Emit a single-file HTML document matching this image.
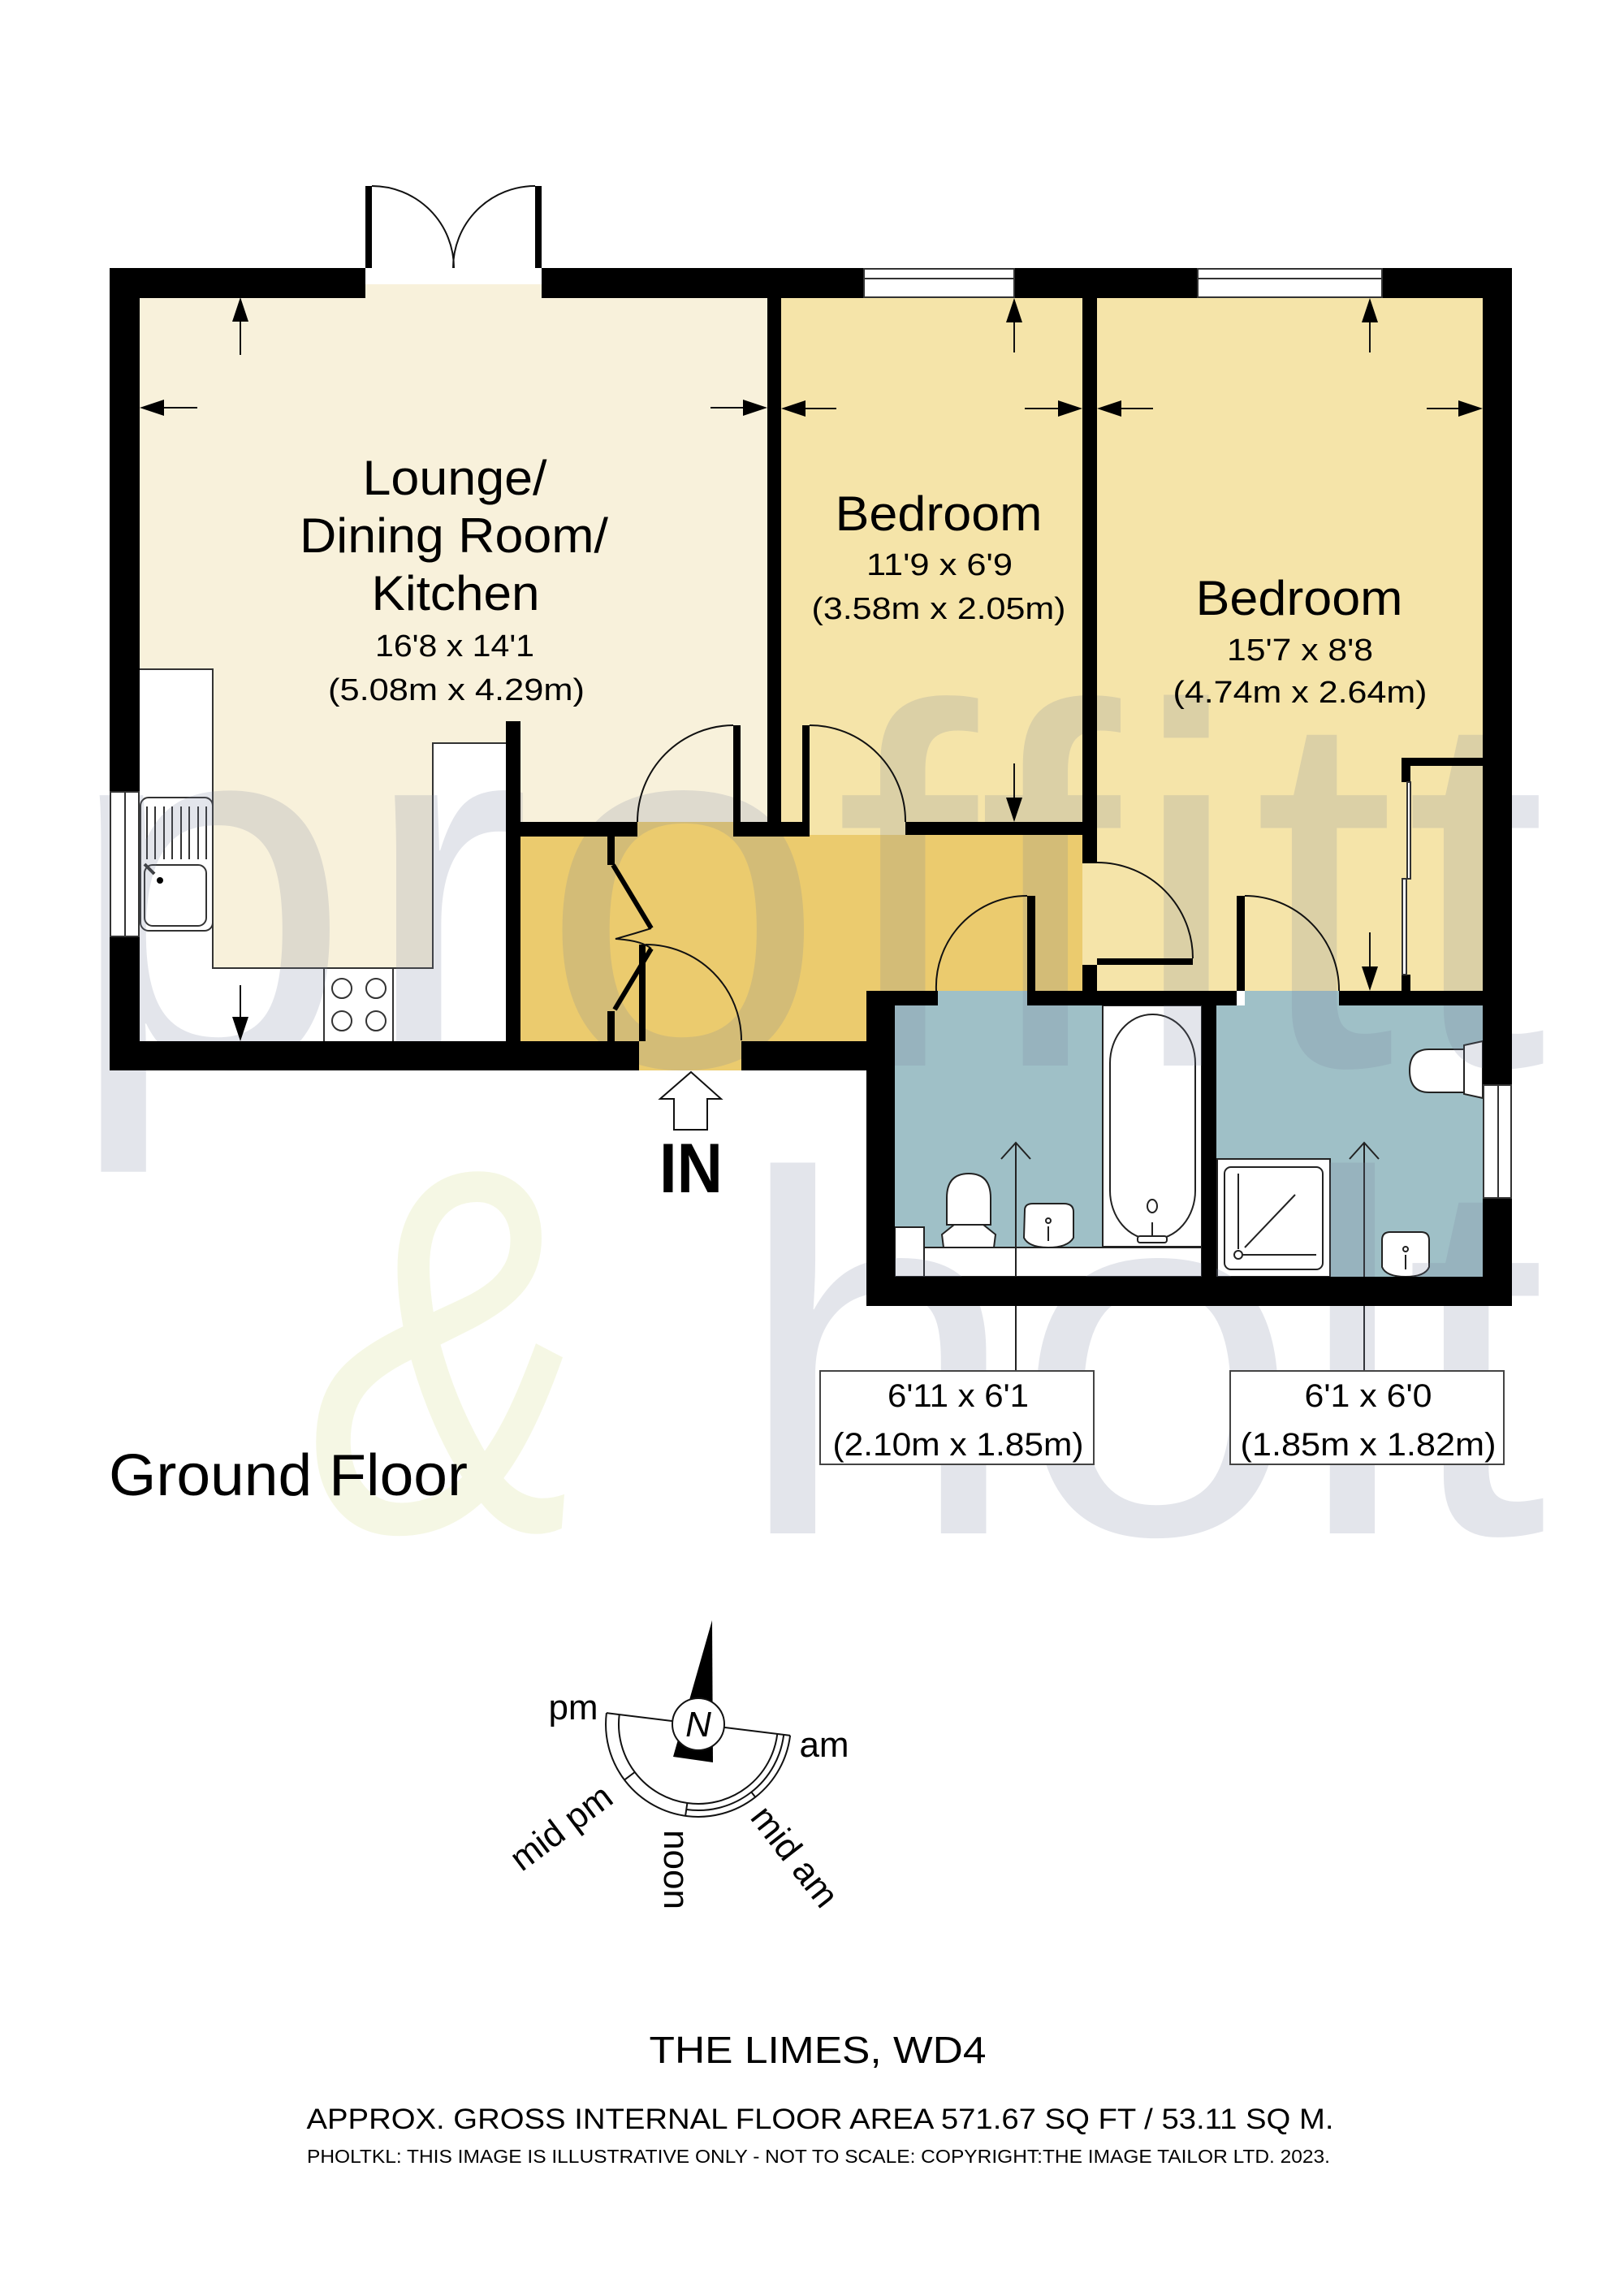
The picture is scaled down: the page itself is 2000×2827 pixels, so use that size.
<!DOCTYPE html>
<html><head><meta charset="utf-8"><style>
html,body{margin:0;padding:0;background:#fff;}
svg{display:block;}
text{font-family:"Liberation Sans",sans-serif;}
</style></head><body>
<svg width="2000" height="2827" viewBox="0 0 2000 2827" xmlns="http://www.w3.org/2000/svg">
<rect width="2000" height="2827" fill="#fff"/>
<rect x="171" y="350" width="774" height="662" fill="#f8f1db"/>
<rect x="171" y="1012" width="452" height="270" fill="#f8f1db"/>
<rect x="962" y="366" width="371" height="646" fill="#f5e4a9"/>
<rect x="1351" y="366" width="475" height="854" fill="#f5e4a9"/>
<rect x="962" y="1012" width="153" height="16" fill="#f5e4a9"/>
<rect x="1333" y="1063" width="18" height="125" fill="#f5e4a9"/>
<rect x="641" y="1028" width="692" height="192" fill="#ebcb6e"/>
<rect x="641" y="1220" width="427" height="62" fill="#ebcb6e"/>
<rect x="787" y="1281" width="126" height="37" fill="#ebcb6e"/>
<rect x="785" y="1012" width="118" height="16" fill="#ebcb6e"/>
<rect x="1102" y="1238" width="724" height="334" fill="#9fc0c7"/>
<rect x="1155" y="1220" width="110" height="18" fill="#9fc0c7"/>
<rect x="1533" y="1220" width="116" height="18" fill="#9fc0c7"/>

<g fill="#fff" stroke="#333" stroke-width="2">
<rect x="171" y="824" width="91" height="458" stroke="none"/>
<rect x="171" y="1192" width="452" height="90" stroke="none"/>
<rect x="533" y="915" width="90" height="367" stroke="none"/>
<polyline points="172,824 262,824 262,1192 533,1192 533,915 623,915" fill="none"/>
<line x1="399" y1="1192" x2="399" y2="1282"/><line x1="484" y1="1192" x2="484" y2="1282"/>
<circle cx="421" cy="1217" r="12"/><circle cx="463" cy="1217" r="12"/>
<circle cx="421" cy="1257" r="12"/><circle cx="463" cy="1257" r="12"/>
<rect x="173" y="982" width="89" height="164" rx="10"/>
<rect x="178" y="1065" width="76" height="75" rx="10"/>
</g>
<g stroke="#333" stroke-width="2">
<line x1="181" y1="993" x2="181" y2="1058"/><line x1="191" y1="993" x2="191" y2="1058"/><line x1="202" y1="993" x2="202" y2="1058"/><line x1="212" y1="993" x2="212" y2="1058"/><line x1="223" y1="993" x2="223" y2="1058"/><line x1="233" y1="993" x2="233" y2="1058"/><line x1="244" y1="993" x2="244" y2="1058"/><line x1="254" y1="993" x2="254" y2="1058"/>
<line x1="178" y1="1064" x2="190" y2="1076" stroke-width="4"/>
</g>
<circle cx="197" cy="1084" r="4" fill="#000"/>

<g fill="#fff" stroke="#222" stroke-width="2">
<rect x="1358" y="1238" width="122" height="297"/>
<rect x="1138" y="1536" width="342" height="36"/>
<rect x="1102" y="1511" width="36" height="61"/>
<rect x="1367" y="1249" width="105" height="277" rx="52" ry="60"/>
<ellipse cx="1419" cy="1485" rx="6" ry="8"/>
<line x1="1419" y1="1505" x2="1419" y2="1524"/>
<rect x="1401" y="1522" width="36" height="8" rx="3"/>
<path d="M1166,1508 L1166,1475 Q1166,1445 1193,1445 Q1220,1445 1220,1475 L1220,1508 Z"/>
<path d="M1162,1536 L1160,1520 L1175,1508 L1211,1508 L1226,1520 L1224,1536 Z"/>
<path d="M1262,1490 Q1262,1482 1272,1482 L1310,1482 Q1322,1482 1322,1492 L1322,1524 Q1315,1536 1291,1536 Q1267,1536 1261,1524 Z"/>
<rect x="1499" y="1427" width="139" height="145"/>
<rect x="1508" y="1437" width="121" height="126" rx="8"/>
<path d="M1702,1527 Q1702,1517 1712,1517 L1750,1517 Q1760,1517 1760,1527 L1760,1560 Q1755,1572 1731,1572 Q1707,1572 1702,1560 Z"/>
<path d="M1803,1292 L1760,1292 Q1736,1292 1736,1318 Q1736,1345 1760,1345 L1803,1345 Z"/>
<path d="M1803,1287 L1826,1282 L1826,1352 L1803,1347 Z"/>
</g>
<g stroke="#222" stroke-width="2" fill="none">
<line x1="1525" y1="1445" x2="1525" y2="1538"/><line x1="1531" y1="1545" x2="1621" y2="1545"/>
<circle cx="1525" cy="1545" r="5"/><line x1="1533" y1="1536" x2="1595" y2="1471"/>
<circle cx="1291" cy="1503" r="3"/><line x1="1291" y1="1510" x2="1291" y2="1528"/>
<circle cx="1731" cy="1538" r="3"/><line x1="1731" y1="1545" x2="1731" y2="1563"/>
</g>
<g stroke="#222" stroke-width="2" fill="none">
<line x1="1251" y1="1407" x2="1251" y2="1688"/><polyline points="1233,1427 1251,1407 1269,1427"/>
<line x1="1680" y1="1407" x2="1680" y2="1688"/><polyline points="1662,1427 1680,1407 1698,1427"/>
</g>

<g opacity="0.2" fill="#78829f" font-family="DejaVu Sans ExtraLight, Liberation Sans, sans-serif" font-weight="200">
<text x="82" y="1312" font-size="630" textLength="1823" lengthAdjust="spacing">proffitt</text>
<text x="905" y="1888" font-size="630" textLength="1000" lengthAdjust="spacing">holt</text>
</g>
<text x="0" y="0" font-family="Liberation Serif, serif" font-style="italic" font-size="640" fill="#dfe8a8" opacity="0.3" transform="translate(381,1885) scale(0.8,1)">&amp;</text>

<g fill="#000">
<rect x="135" y="330" width="315" height="37"/>
<rect x="667" y="330" width="397" height="37"/>
<rect x="1249" y="330" width="226" height="37"/>
<rect x="1702" y="330" width="160" height="37"/>
<rect x="450" y="229" width="8" height="101"/>
<rect x="659" y="229" width="8" height="101"/>
<rect x="135" y="330" width="37" height="645"/>
<rect x="135" y="1153" width="37" height="165"/>
<rect x="1826" y="330" width="36" height="1006"/>
<rect x="1826" y="1475" width="36" height="133"/>
<rect x="135" y="1282" width="652" height="36"/>
<rect x="913" y="1282" width="189" height="36"/>
<rect x="1067" y="1220" width="35" height="388"/>
<rect x="1067" y="1572" width="795" height="36"/>
<rect x="945" y="350" width="17" height="678"/>
<rect x="1333" y="350" width="18" height="713"/>
<rect x="623" y="888" width="18" height="394"/>
<rect x="623" y="1012" width="162" height="18"/>
<rect x="903" y="1012" width="94" height="18"/>
<rect x="903" y="893" width="9" height="119"/>
<rect x="988" y="893" width="9" height="119"/>
<rect x="1115" y="1012" width="236" height="16"/>
<rect x="1333" y="1188" width="18" height="50"/>
<rect x="1351" y="1180" width="118" height="8"/>
<rect x="1067" y="1220" width="88" height="18"/>
<rect x="1265" y="1220" width="258" height="18"/>
<rect x="1649" y="1220" width="213" height="18"/>
<rect x="1265" y="1103" width="10" height="117"/>
<rect x="1523" y="1103" width="10" height="117"/>
<rect x="1480" y="1238" width="18" height="334"/>
<rect x="748" y="1030" width="9" height="35"/>
<rect x="748" y="1245" width="9" height="37"/>
<rect x="787" y="1163" width="8" height="119"/>
<rect x="1726" y="933" width="100" height="10"/>
<rect x="1726" y="933" width="11" height="30"/>
<rect x="1726" y="1200" width="11" height="20"/>
</g>
<g fill="#fff" stroke="#333" stroke-width="2">
<rect x="1064" y="331" width="185" height="35"/><line x1="1064" y1="343" x2="1249" y2="343"/>
<rect x="1475" y="331" width="227" height="35"/><line x1="1475" y1="343" x2="1702" y2="343"/>
<rect x="136" y="975" width="35" height="178"/><line x1="154" y1="975" x2="154" y2="1153"/>
<rect x="1827" y="1336" width="34" height="139"/><line x1="1845" y1="1336" x2="1845" y2="1475"/>
<rect x="1733" y="963" width="4" height="119"/>
<rect x="1727" y="1082" width="5" height="118"/>
</g>
<g fill="none" stroke="#111" stroke-width="2">
<path d="M458,229 A101,101 0 0 1 559,330"/>
<path d="M659,229 A101,101 0 0 0 558,330"/>
<path d="M903,893 A119,119 0 0 0 785,1012"/>
<path d="M997,893 A118,118 0 0 1 1115,1012"/>
<path d="M1351,1062 A118,118 0 0 1 1469,1180"/>
<path d="M795,1163 A118,118 0 0 1 913,1281"/>
<path d="M1265,1103 A112,112 0 0 0 1153,1220"/>
<path d="M1533,1103 A116,116 0 0 1 1649,1220"/>
<path d="M758,1156 Q780,1150 802,1143 Q780,1150 758,1156 Q790,1158 802,1168"/>
</g>
<g stroke="#000" stroke-width="6" fill="none">
<polyline points="755,1065 802,1143"/>
<polyline points="757,1243 802,1168"/>
</g>

<g stroke="#111" stroke-width="2">
<line x1="296" y1="380" x2="296" y2="437"/><line x1="185" y1="502" x2="243" y2="502"/>
<line x1="875" y1="502" x2="930" y2="502"/><line x1="296" y1="1213" x2="296" y2="1268"/>
<line x1="1249" y1="380" x2="1249" y2="434"/><line x1="976" y1="503" x2="1030" y2="503"/>
<line x1="1262" y1="503" x2="1320" y2="503"/><line x1="1249" y1="940" x2="1249" y2="1000"/>
<line x1="1687" y1="380" x2="1687" y2="434"/><line x1="1365" y1="503" x2="1420" y2="503"/>
<line x1="1757" y1="503" x2="1812" y2="503"/><line x1="1687" y1="1148" x2="1687" y2="1208"/>
</g>
<g fill="#000">
<polygon points="296,366 286,396 306,396"/>
<polygon points="172,502 202,492 202,512"/>
<polygon points="945,502 915,492 915,512"/>
<polygon points="296,1282 286,1252 306,1252"/>
<polygon points="1249,367 1239,397 1259,397"/>
<polygon points="962,503 992,493 992,513"/>
<polygon points="1333,503 1303,493 1303,513"/>
<polygon points="1249,1012 1239,982 1259,982"/>
<polygon points="1687,367 1677,397 1697,397"/>
<polygon points="1351,503 1381,493 1381,513"/>
<polygon points="1826,503 1796,493 1796,513"/>
<polygon points="1687,1220 1677,1190 1697,1190"/>
</g>

<polygon points="851,1320 888,1353 871,1353 871,1391 830,1391 830,1353 813,1353" fill="#fff" stroke="#111" stroke-width="2"/>

<rect x="1010" y="1688" width="337" height="115" fill="#fff" stroke="#444" stroke-width="2"/>
<rect x="1515" y="1688" width="337" height="115" fill="#fff" stroke="#444" stroke-width="2"/>

<g fill="#000" text-anchor="middle">
<text x="560" y="609" font-size="60" textLength="227" lengthAdjust="spacingAndGlyphs">Lounge/</text>
<text x="559" y="680" font-size="60" textLength="380" lengthAdjust="spacingAndGlyphs">Dining Room/</text>
<text x="561" y="751" font-size="60" textLength="207" lengthAdjust="spacingAndGlyphs">Kitchen</text>
<text x="560" y="808" font-size="38" textLength="196" lengthAdjust="spacingAndGlyphs">16'8 x 14'1</text>
<text x="562" y="862" font-size="38" textLength="316" lengthAdjust="spacingAndGlyphs">(5.08m x 4.29m)</text>
<text x="1156" y="653" font-size="60" textLength="255" lengthAdjust="spacingAndGlyphs">Bedroom</text>
<text x="1157" y="708" font-size="38" textLength="180" lengthAdjust="spacingAndGlyphs">11'9 x 6'9</text>
<text x="1156" y="762" font-size="38" textLength="313" lengthAdjust="spacingAndGlyphs">(3.58m x 2.05m)</text>
<text x="1600" y="757" font-size="60" textLength="255" lengthAdjust="spacingAndGlyphs">Bedroom</text>
<text x="1601" y="813" font-size="38" textLength="180" lengthAdjust="spacingAndGlyphs">15'7 x 8'8</text>
<text x="1601" y="865" font-size="38" textLength="313" lengthAdjust="spacingAndGlyphs">(4.74m x 2.64m)</text>
<text x="1180" y="1732" font-size="40" textLength="174" lengthAdjust="spacingAndGlyphs">6'11 x 6'1</text>
<text x="1180" y="1792" font-size="40" textLength="309" lengthAdjust="spacingAndGlyphs">(2.10m x 1.85m)</text>
<text x="1685" y="1732" font-size="40" textLength="157" lengthAdjust="spacingAndGlyphs">6'1 x 6'0</text>
<text x="1685" y="1792" font-size="40" textLength="315" lengthAdjust="spacingAndGlyphs">(1.85m x 1.82m)</text>
<text x="851" y="1468" font-size="86" font-weight="bold" textLength="78" lengthAdjust="spacingAndGlyphs">IN</text>
<text x="1007" y="2540" font-size="46" textLength="415" lengthAdjust="spacingAndGlyphs">THE LIMES, WD4</text>
<text x="1010" y="2621" font-size="35" textLength="1265" lengthAdjust="spacingAndGlyphs">APPROX. GROSS INTERNAL FLOOR AREA 571.67 SQ FT / 53.11 SQ M.</text>
<text x="1008" y="2663" font-size="23" textLength="1260" lengthAdjust="spacingAndGlyphs">PHOLTKL: THIS IMAGE IS ILLUSTRATIVE ONLY - NOT TO SCALE: COPYRIGHT:THE IMAGE TAILOR LTD. 2023.</text>
</g>
<text x="134" y="1841" font-size="72" textLength="442" lengthAdjust="spacingAndGlyphs">Ground Floor</text>

<polygon points="877,1995 878,2170 829,2163" fill="#000"/>
<g fill="none" stroke="#111" stroke-width="2">
<path d="M746.9,2109.1 A114,114 0 0 0 846.1,2236.1 A114,114 0 0 0 973.1,2136.9"/>
<path d="M762.7,2111.1 A98,98 0 0 0 846.4,2220 A98,98 0 0 0 957.3,2134.9"/>
<path d="M845.2,2228 A106,106 0 0 0 965.2,2135.9"/>
<line x1="746.9" y1="2109.1" x2="828.3" y2="2119.1"/>
<line x1="891.8" y1="2126.9" x2="973.1" y2="2136.9"/>
<line x1="769" y1="2191.6" x2="781.7" y2="2182"/>
<line x1="844.1" y1="2235.9" x2="846.4" y2="2220"/>
<line x1="930.2" y1="2212.8" x2="925.3" y2="2206.5"/>
</g>
<circle cx="860" cy="2123" r="32" fill="#fff" stroke="#111" stroke-width="2"/>
<text x="860" y="2138" font-size="44" font-style="italic" text-anchor="middle">N</text>
<g font-size="44" fill="#000" text-anchor="middle">
<text x="706" y="2117">pm</text>
<text x="1015" y="2163">am</text>
<text transform="translate(700,2262) rotate(-37)">mid pm</text>
<text transform="translate(818,2302) rotate(90)">noon</text>
<text transform="translate(967,2295) rotate(52)">mid am</text>
</g>
</svg>
</body></html>
